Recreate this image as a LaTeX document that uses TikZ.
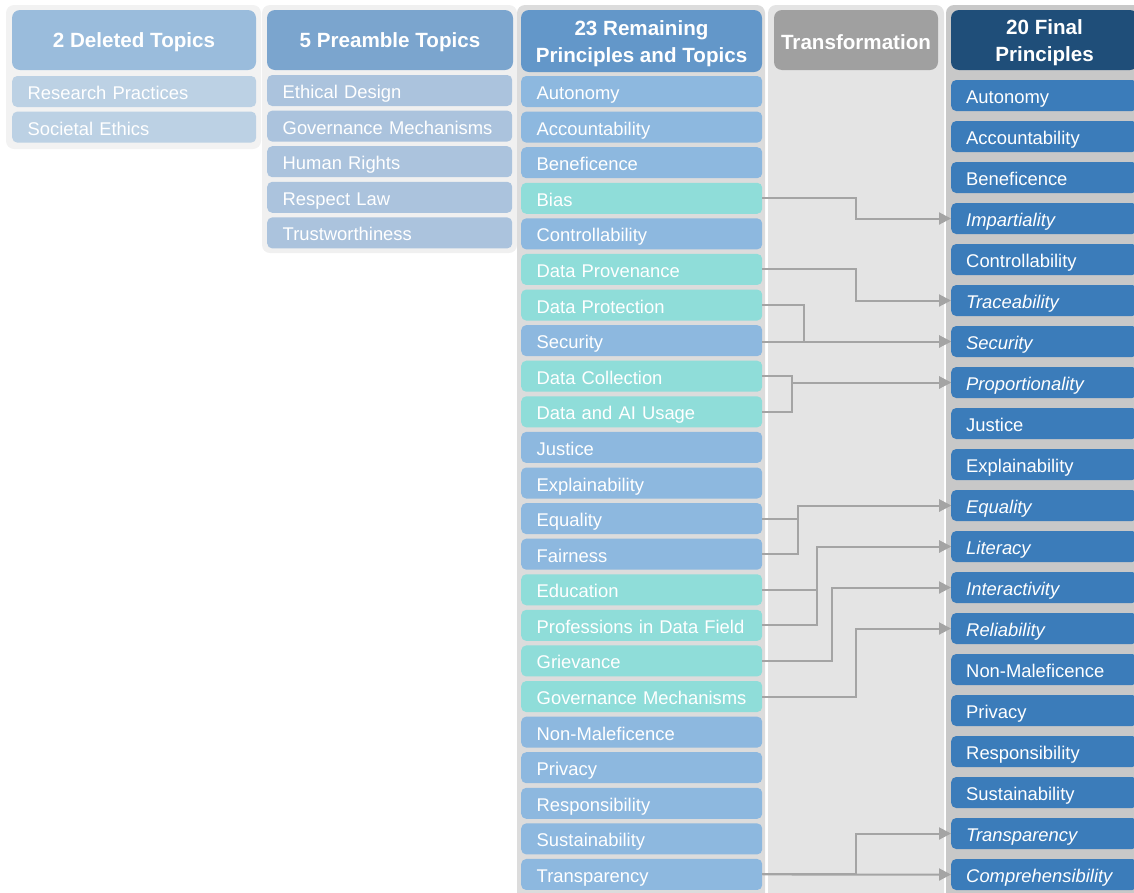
\documentclass[tikz,border=0pt]{standalone}
\usepackage{fontspec}
\setmainfont{Liberation Sans}
\usetikzlibrary{arrows.meta}
\definecolor{panelA}{HTML}{F2F2F2}
\definecolor{panelB}{HTML}{F0F0F0}
\definecolor{panelC}{HTML}{DCDCDC}
\definecolor{panelD}{HTML}{E4E4E4}
\definecolor{panelE}{HTML}{C8C8C8}
\definecolor{hdrA}{HTML}{9ABCDC}
\definecolor{hdrB}{HTML}{7BA5CE}
\definecolor{hdrC}{HTML}{6397C9}
\definecolor{hdrD}{HTML}{A0A0A0}
\definecolor{hdrE}{HTML}{1F4E79}
\definecolor{itemA}{HTML}{BCD1E4}
\definecolor{itemB}{HTML}{ABC3DD}
\definecolor{itemBlue}{HTML}{8DB8DF}
\definecolor{itemTeal}{HTML}{8FDDD9}
\definecolor{itemE}{HTML}{3B7CBA}
\definecolor{connGray}{HTML}{A4A4A4}
\newcommand{\hstrut}{\rule{0pt}{20pt}}
\begin{document}
\begin{tikzpicture}[x=1pt,y=-1pt,
  hdr/.style={fill=#1, rounded corners=8pt, text=white,
    font=\fontsize{20.6}{27}\selectfont\bfseries, align=center, inner sep=0pt},
  item/.style 2 args={fill=#1, rounded corners=5pt, text=white, anchor=west,
    minimum height=31pt, inner xsep=15.5pt, inner ysep=0pt, text width=#2,
    align=left, text height=17pt, text depth=1pt,
    font=\fontsize{18.4}{22}\selectfont},
  link/.style={draw=connGray, line width=2pt, -{Triangle[length=12pt,width=12pt]}},
  ]
\useasboundingbox (0,0) rectangle (1134,892);
% panels
\fill[panelA, rounded corners=8pt] (6,5) rectangle (261,149);
\fill[panelB, rounded corners=8pt] (262,5) rectangle (517,253);
\fill[panelC, rounded corners=8pt] (517,5) rectangle (765,905);
\fill[panelD, rounded corners=8pt] (768,5) rectangle (944,905);
\fill[panelE, rounded corners=8pt] (946,5) rectangle (1160,905);
% headers
\node[hdr=hdrA, minimum width=244pt, minimum height=60pt] (hA) at (134,40) {\hstrut 2 Deleted Topics};
\node[hdr=hdrB, minimum width=246pt, minimum height=60pt] (hB) at (390,40) {\hstrut 5 Preamble Topics};
\node[hdr=hdrC, minimum width=241pt, minimum height=62pt] (hC) at (641.5,41) {\hstrut 23 Remaining\\Principles and Topics};
\node[hdr=hdrD, minimum width=164pt, minimum height=60pt] (hD) at (856,40) {\hstrut Transformation};
\node[hdr=hdrE, minimum width=187pt, minimum height=60pt] (hE) at (1044.5,40) {\hstrut 20 Final\\Principles};
% column 1
\foreach \t [count=\i] in {Research Practices, Societal Ethics}
  \node[item={itemA}{213pt}] (d\i) at (12,{91.5+(\i-1)*35.6}) {\t};
% column 2
\foreach \t [count=\i] in {Ethical Design, Governance Mechanisms, Human Rights, Respect Law, Trustworthiness}
  \node[item={itemB}{214pt}] (p\i) at (267,{90.5+(\i-1)*35.6}) {\t};
% column 3
\foreach \t/\c [count=\i] in {Autonomy/itemBlue, Accountability/itemBlue, Beneficence/itemBlue,
  Bias/itemTeal, Controllability/itemBlue, Data Provenance/itemTeal, Data Protection/itemTeal,
  Security/itemBlue, Data Collection/itemTeal, Data and AI Usage/itemTeal, Justice/itemBlue,
  Explainability/itemBlue, Equality/itemBlue, Fairness/itemBlue, Education/itemTeal,
  Professions in Data Field/itemTeal, Grievance/itemTeal, Governance Mechanisms/itemTeal,
  Non-Maleficence/itemBlue, Privacy/itemBlue, Responsibility/itemBlue, Sustainability/itemBlue,
  Transparency/itemBlue}
  \node[item={\c}{210pt}] (r\i) at (521,{91.5+(\i-1)*35.59}) {\t};
% column 5
\foreach \t/\s [count=\i] in {Autonomy/\upshape, Accountability/\upshape, Beneficence/\upshape,
  Impartiality/\itshape, Controllability/\upshape, Traceability/\itshape, Security/\itshape,
  Proportionality/\itshape, Justice/\upshape, Explainability/\upshape, Equality/\itshape,
  Literacy/\itshape, Interactivity/\itshape, Reliability/\itshape, Non-Maleficence/\upshape,
  Privacy/\upshape, Responsibility/\upshape, Sustainability/\upshape, Transparency/\itshape,
  Comprehensibility/\itshape}
  \node[item={itemE}{156pt}, inner xsep=15pt] (f\i) at (951,{95.5+(\i-1)*41}) {\s\t};
% connectors
\draw[link] (r4.east) -- ++(94,0) |- (f4.west);
\draw[link] (r6.east) -- ++(94,0) |- (f6.west);
\draw[link] (r7.east) -- ++(42,0) |- (f7.west);
\draw[link] (r8.east |- f7.west) -- (f7.west);
\draw[link] (r9.east) -- ++(30,0) |- (f8.west);
\draw[link] (r10.east) -- ++(30,0) |- (f8.west);
\draw[link] (r13.east) -- ++(36,0) |- (f11.west);
\draw[link] (r14.east) -- ++(36,0) |- (f11.west);
\draw[link] (r15.east) -- ++(55,0) |- (f12.west);
\draw[link] (r16.east) -- ++(55,0) |- (f12.west);
\draw[link] (r17.east) -- ++(70,0) |- (f13.west);
\draw[link] (r18.east) -- ++(94,0) |- (f14.west);
\draw[link] (r23.east) -- (f20.west);
\draw[link] (r23.east) -- ++(94,0) |- (f19.west);
\end{tikzpicture}
\end{document}
